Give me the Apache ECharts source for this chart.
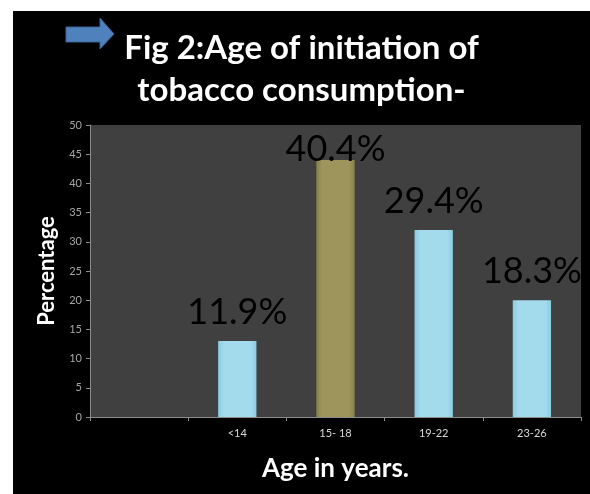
<!DOCTYPE html>
<html>
<head>
<meta charset="utf-8">
<script src="https://cdn.jsdelivr.net/npm/echarts@6/dist/echarts.min.js"></script>
<style>
  html, body { margin: 0; padding: 0; background: #fff; }
  #main { position: absolute; left: 13px; top: 11px; width: 577px; height: 483px; }
</style>
</head>
<body>
<div id="main"></div>
<script>
// categories (first slot is empty in the original)
var categories = ['', '<14', '15- 18', '19-22', '23-26'];
// bar heights
var barValues = [null, 13, 44, 32, 20];
// percentage labels written above the bars
var pctLabels = ['', '11.9%', '40.4%', '29.4%', '18.3%'];
var yMin = 0, yMax = 50, yStep = 5;
var highlightIndex = 2;

var myChart = echarts.init(document.getElementById('main'));

var blueFill = new echarts.graphic.LinearGradient(0, 0, 1, 0, [
  { offset: 0, color: '#8ccbe0' },
  { offset: 0.15, color: '#a3dbec' },
  { offset: 0.85, color: '#a3dbec' },
  { offset: 1, color: '#8ccbe0' }
]);
var oliveFill = new echarts.graphic.LinearGradient(0, 0, 1, 0, [
  { offset: 0, color: '#8a8148' },
  { offset: 0.15, color: '#9e955c' },
  { offset: 0.85, color: '#9e955c' },
  { offset: 1, color: '#8a8148' }
]);

var seriesData = barValues.map(function (v, i) {
  var item = {
    value: v,
    itemStyle: { color: i === highlightIndex ? oliveFill : blueFill }
  };
  if (i === highlightIndex) {
    item.label = { offset: [0, 18] };
  }
  return item;
});

var option = {
  backgroundColor: '#000',
  animation: false,
  title: {
    text: 'Fig 2:Age of initiation of\ntobacco consumption-',
    left: 'center',
    top: 11,
    textStyle: {
      color: '#fff',
      fontFamily: 'Lato',
      fontWeight: 'bold',
      fontSize: 33,
      lineHeight: 42
    }
  },
  graphic: [{
    type: 'polygon',
    shape: {
      points: [[53, 16], [87, 16], [87, 7], [101, 23], [87, 38], [87, 31], [53, 31]]
    },
    style: { fill: '#4f81bd', stroke: '#3a6494', lineWidth: 1 }
  }],
  grid: {
    left: 77, right: 9, top: 114, bottom: 77,
    show: true,
    backgroundColor: '#404040',
    borderWidth: 0
  },
  xAxis: {
    type: 'category',
    data: categories,
    name: 'Age in years.',
    nameLocation: 'middle',
    nameGap: 39,
    nameTextStyle: { color: '#fff', fontFamily: 'Lato', fontWeight: 'bold', fontSize: 26 },
    axisLine: { lineStyle: { color: '#8c8c8c' } },
    axisTick: { show: true, length: 4, lineStyle: { color: '#8c8c8c' } },
    axisLabel: { color: '#d9d9d9', fontSize: 11, fontFamily: 'Lato', margin: 11 }
  },
  yAxis: {
    type: 'value',
    min: yMin, max: yMax, interval: yStep,
    name: 'Percentage',
    nameLocation: 'middle',
    nameGap: 29,
    nameTextStyle: { color: '#fff', fontFamily: 'Lato', fontWeight: 'bold', fontSize: 22 },
    axisLine: { show: true, lineStyle: { color: '#8c8c8c' } },
    axisTick: { show: true, length: 4, lineStyle: { color: '#8c8c8c' } },
    axisLabel: { color: '#a6a6a6', fontSize: 11, fontFamily: 'Lato', margin: 8 },
    splitLine: { show: false }
  },
  series: [{
    type: 'bar',
    data: seriesData,
    barWidth: '39%',
    label: {
      show: true,
      position: 'top',
      distance: 11,
      color: '#000',
      fontFamily: 'Lato',
      fontSize: 36,
      formatter: function (p) { return pctLabels[p.dataIndex]; }
    }
  }]
};

myChart.setOption(option);
</script>
</body>
</html>
